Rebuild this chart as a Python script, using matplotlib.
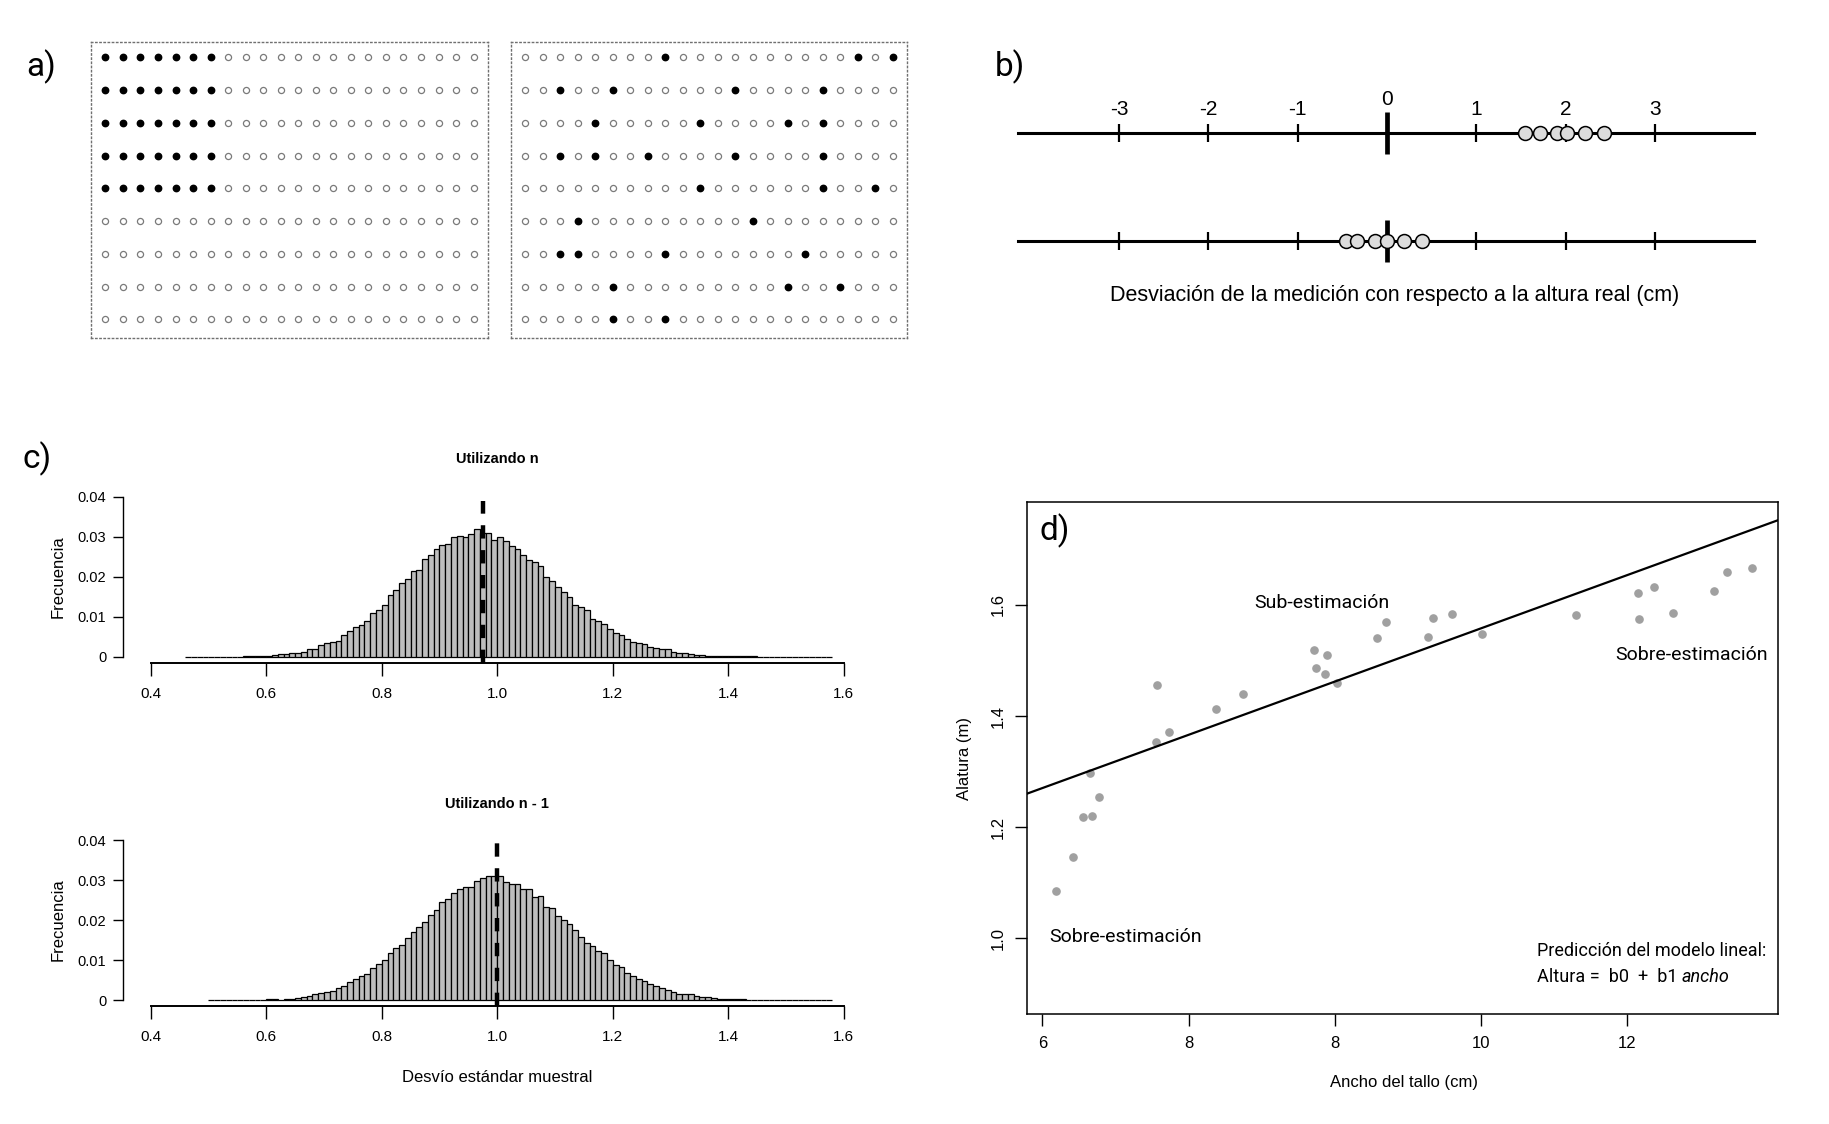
import matplotlib
matplotlib.use('Agg')
import matplotlib.pyplot as plt
import numpy as np

W, H = 1829, 1124

NARROW = ['Liberation Sans Narrow', 'Liberation Sans', 'DejaVu Sans']
SANS = ['Liberation Sans', 'DejaVu Sans']
COND = ['Roboto', 'DejaVu Sans']
plt.rcParams['font.family'] = NARROW

# a) grilla de 9 x 22 unidades, seleccion sistematica vs aleatoria
n_filas = 9
n_cols = 22
izq_filas_llenas = 5
izq_cols_llenas = 7
der_llenos = [[8, 19, 21], [2, 5, 12, 17], [4, 10, 15, 17], [2, 4, 7, 12, 17],
              [10, 17, 20], [3, 13], [2, 3, 8, 16], [5, 15, 18], [5, 8]]

# b) desviaciones de la medicion (cm)
b_ticks = [-3, -2, -1, 0, 1, 2, 3]
b_sesgado = [1.55, 1.71, 1.91, 2.02, 2.22, 2.43]
b_insesgado = [-0.46, -0.33, -0.13, 0.0, 0.19, 0.39]

# c) distribucion del desvio estandar muestral
ancho_bin = 0.01
sd_n_inicio = 0.46
sd_n_frec = [0, 0, 0, 0, 0, 0, 0, 0, 0, 0,
             0.0003, 0.0003, 0.0003, 0.0003, 0.0003,
             0.0005, 0.0008, 0.0008, 0.001, 0.001,
             0.0013, 0.002, 0.002, 0.0029, 0.0034,
             0.0038, 0.0041, 0.0054, 0.0064, 0.0075,
             0.008, 0.009, 0.0111, 0.0118, 0.0129,
             0.0155, 0.0168, 0.0186, 0.0194, 0.0214,
             0.0217, 0.0245, 0.0256, 0.0271, 0.0279,
             0.0282, 0.0299, 0.0302, 0.0299, 0.0308,
             0.0319, 0.031, 0.031, 0.0293, 0.030,
             0.029, 0.0277, 0.0269, 0.0256, 0.0243,
             0.0237, 0.0227, 0.0201, 0.0191, 0.0175,
             0.0162, 0.015, 0.0131, 0.0124, 0.0118,
             0.0095, 0.009, 0.0082, 0.0069, 0.0059,
             0.0054, 0.0046, 0.0038, 0.0035, 0.0033,
             0.0025, 0.0022, 0.002, 0.002, 0.0012,
             0.001, 0.001, 0.0007, 0.0005, 0.0005,
             0.0003, 0.0003, 0.0003, 0.0003, 0.0003, 0.0003, 0.0003, 0.0003, 0.0003,
             0, 0, 0, 0, 0, 0, 0, 0, 0, 0, 0, 0, 0]
sd_n_media = 0.975
sd_n_tope = 0.039

sd_n1_inicio = 0.50
sd_n1_frec = [0, 0, 0, 0, 0, 0, 0, 0, 0, 0,
              0.0003, 0.0003, 0, 0.0003, 0.0003,
              0.0005, 0.0008, 0.001, 0.0016, 0.0018, 0.0021,
              0.0023, 0.0031, 0.0034, 0.0044, 0.0052,
              0.006, 0.0065, 0.008, 0.0091, 0.0099,
              0.0117, 0.013, 0.0137, 0.0156, 0.0169,
              0.0182, 0.0194, 0.0213, 0.0226, 0.0246,
              0.0252, 0.0267, 0.0277, 0.0283, 0.0283,
              0.0298, 0.0306, 0.0309, 0.0309, 0.0309,
              0.0296, 0.029, 0.029, 0.0277, 0.0277,
              0.0257, 0.0259, 0.0233, 0.0231, 0.021,
              0.02, 0.0189, 0.0174, 0.0158, 0.0143,
              0.0135, 0.0122, 0.0117, 0.0099, 0.0088,
              0.0083, 0.0067, 0.006, 0.0052, 0.0047,
              0.0041, 0.0034, 0.0029, 0.0026, 0.0021,
              0.0016, 0.0016, 0.0016, 0.001, 0.0008,
              0.0008, 0.0005, 0.0003, 0.0003, 0.0003, 0.0003, 0.0003,
              0, 0, 0, 0, 0, 0, 0, 0, 0, 0, 0, 0, 0, 0, 0]
sd_n1_media = 1.0
sd_n1_tope = 0.0416

# d) altura vs ancho del tallo
ancho = [6.18, 6.42, 6.55, 6.68, 6.65, 6.77, 7.55, 7.57, 7.73, 8.38,
         8.74, 9.72, 9.74, 9.89, 9.86, 10.03, 10.58, 10.70, 11.27, 11.34,
         11.60, 12.01, 13.30, 14.14, 14.16, 14.36, 14.63, 15.19, 15.36, 15.70]
altura = [1.086, 1.147, 1.219, 1.221, 1.298, 1.254, 1.354, 1.456, 1.372, 1.413,
          1.440, 1.519, 1.486, 1.509, 1.476, 1.459, 1.541, 1.569, 1.542, 1.576,
          1.584, 1.548, 1.581, 1.621, 1.575, 1.632, 1.586, 1.625, 1.659, 1.666]
b0, b1 = 0.983, 0.0479
d_xticks = [6, 8, 10, 12, 14]
d_xlabels = ['6', '8', '8', '10', '12']
d_yticks = [1.0, 1.2, 1.4, 1.6]


def caja(l, t, r, b):
    return [l / W, 1 - b / H, (r - l) / W, (b - t) / H]


def ftext(x, y, s, **kw):
    return fig.text(x / W, 1 - y / H, s, **kw)


fig = plt.figure(figsize=(W / 100, H / 100), dpi=100)

# ---- a)
for l, r, lado in ((91, 488, 'izq'), (511, 907, 'der')):
    ax = fig.add_axes(caja(l, 42, r, 338))
    llenos = np.zeros((n_filas, n_cols), dtype=bool)
    if lado == 'izq':
        llenos[:izq_filas_llenas, :izq_cols_llenas] = True
    else:
        for fila, cols in enumerate(der_llenos):
            llenos[fila, cols] = True
    fy, fx = np.nonzero(llenos)
    vy, vx = np.nonzero(~llenos)
    ax.plot(vx, vy, 'o', ms=4.4, mfc='white', mec='#7a7a7a', mew=0.9, ls='none')
    ax.plot(fx, fy, 'o', ms=4.6, color='black', ls='none')
    ax.set_xlim(-0.82, n_cols - 1 + 0.82)
    ax.set_ylim(n_filas - 1 + 0.57, -0.47)
    ax.set_xticks([])
    ax.set_yticks([])
    for s in ax.spines.values():
        s.set_linestyle((0, (1, 2)))
        s.set_color('#707070')
        s.set_linewidth(1.0)

ftext(41, 67, 'a)', fontsize=24, family=COND, ha='center', va='center')

# ---- b)
axb = fig.add_axes(caja(1018, 133, 1754, 241))
axb.set_xlim(-4.13, 4.11)
axb.set_ylim(0, 1)
axb.axis('off')
for nivel, pts in ((1, b_sesgado), (0, b_insesgado)):
    axb.axhline(nivel, color='black', lw=2.2, clip_on=False)
    for t in b_ticks:
        if t == 0:
            axb.vlines(t, nivel - 0.19, nivel + 0.19, colors='black', lw=3.4, clip_on=False)
        else:
            axb.vlines(t, nivel - 0.085, nivel + 0.085, colors='black', lw=1.6, clip_on=False)
    axb.plot(pts, [nivel] * len(pts), 'o', ms=10, mfc='#dcdcdc', mec='black',
             mew=1.1, ls='none', clip_on=False, zorder=3)
for t in b_ticks:
    axb.text(t, 1.31 if t == 0 else 1.22, str(t), ha='center', va='center',
             fontsize=15, family=SANS, clip_on=False)
ftext(1010, 67, 'b)', fontsize=24, family=COND, ha='center', va='center')
ftext(1395, 296, 'Desviación de la medición con respecto a la altura real (cm)',
      fontsize=15.5, family=SANS, ha='center', va='center')

# ---- c)
ftext(37, 459, 'c)', fontsize=24, family=COND, ha='center', va='center')
paneles_c = ((497, 657, sd_n_inicio, sd_n_frec, sd_n_media, sd_n_tope, 'Utilizando n', 459),
             (840, 1000, sd_n1_inicio, sd_n1_frec, sd_n1_media, sd_n1_tope, 'Utilizando n - 1', 804))
for top, base, inicio, frec, media, tope, titulo, ytit in paneles_c:
    alto = (base - top) / 0.04
    ax = fig.add_axes(caja(123, top - 0.0016 * alto, 871.5, base + 0.0016 * alto))
    bordes = inicio + ancho_bin * np.arange(len(frec))
    ax.bar(bordes, frec, width=ancho_bin, align='edge', color='#bebebe',
           edgecolor='black', linewidth=0.9)
    ax.vlines(media, -0.0016, tope, colors='black', lw=3.2,
              linestyles=[(0, (3, 2.6))], clip_on=False, zorder=4)
    ax.set_xlim(0.352, 1.648)
    ax.set_ylim(-0.0016, 0.0416)
    for s in ('top', 'right'):
        ax.spines[s].set_visible(False)
    ax.spines['left'].set_bounds(0, 0.04)
    ax.spines['bottom'].set_bounds(0.4, 1.6)
    ax.spines['left'].set_linewidth(1.0)
    ax.spines['bottom'].set_linewidth(1.4)
    ax.set_xticks([0.4, 0.6, 0.8, 1.0, 1.2, 1.4, 1.6])
    ax.set_xticklabels(['0.4', '0.6', '0.8', '1.0', '1.2', '1.4', '1.6'])
    ax.set_yticks([0, 0.01, 0.02, 0.03, 0.04])
    ax.set_yticklabels(['0', '0.01', '0.02', '0.03', '0.04'])
    ax.tick_params(axis='x', direction='out', length=9, width=1.0, labelsize=11, pad=8)
    ax.tick_params(axis='y', direction='out', length=7, width=1.0, labelsize=10.5, pad=5)
    ftext(497, ytit, titulo, fontsize=10.5, fontweight='bold', ha='center', va='center')
    ftext(58, (top + base) / 2, 'Frecuencia', fontsize=12, family=SANS,
          rotation=90, ha='center', va='center')
ftext(497, 1077, 'Desvío estándar muestral', fontsize=12, ha='center', va='center')

# ---- d)
axd = fig.add_axes(caja(1027, 502, 1778, 1014))
axd.plot(ancho, altura, 'o', ms=5.2, color='#a0a0a0', ls='none')
axd.axline((0, b0), slope=b1, color='black', lw=1.6)
axd.set_xlim(5.79, 16.06)
axd.set_ylim(0.864, 1.785)
axd.set_xticks(d_xticks)
axd.set_xticklabels(d_xlabels)
axd.set_yticks(d_yticks)
axd.set_yticklabels(['1.0', '1.2', '1.4', '1.6'], rotation=90, va='center')
axd.tick_params(direction='out', length=8.5, width=1.0, labelsize=12, pad=7)
for s in axd.spines.values():
    s.set_linewidth(1.1)
axd.text(9.82, 1.604, 'Sub-estimación', fontsize=14, family=COND, ha='center', va='center')
axd.text(13.84, 1.509, 'Sobre-estimación', fontsize=14, family=COND, ha='left', va='center')
axd.text(6.09, 1.003, 'Sobre-estimación', fontsize=14, family=COND, ha='left', va='center')
axd.text(12.76, 0.978, 'Predicción del modelo lineal:', fontsize=13, family=COND,
         ha='left', va='center')
t1 = axd.text(12.76, 0.931, 'Altura =  b0  +  b1 ', fontsize=13, family=COND,
              ha='left', va='center')
axd.annotate('ancho', xy=(1, 0.5), xycoords=t1, fontsize=13, family=COND,
             style='italic', ha='left', va='center')
ftext(1055, 531, 'd)', fontsize=24, family=COND, ha='center', va='center')
ftext(965, 758, 'Alatura (m)', fontsize=12, rotation=90, ha='center', va='center')
ftext(1404, 1082, 'Ancho del tallo (cm)', fontsize=12, ha='center', va='center')

fig.savefig('out.png', dpi=100)
